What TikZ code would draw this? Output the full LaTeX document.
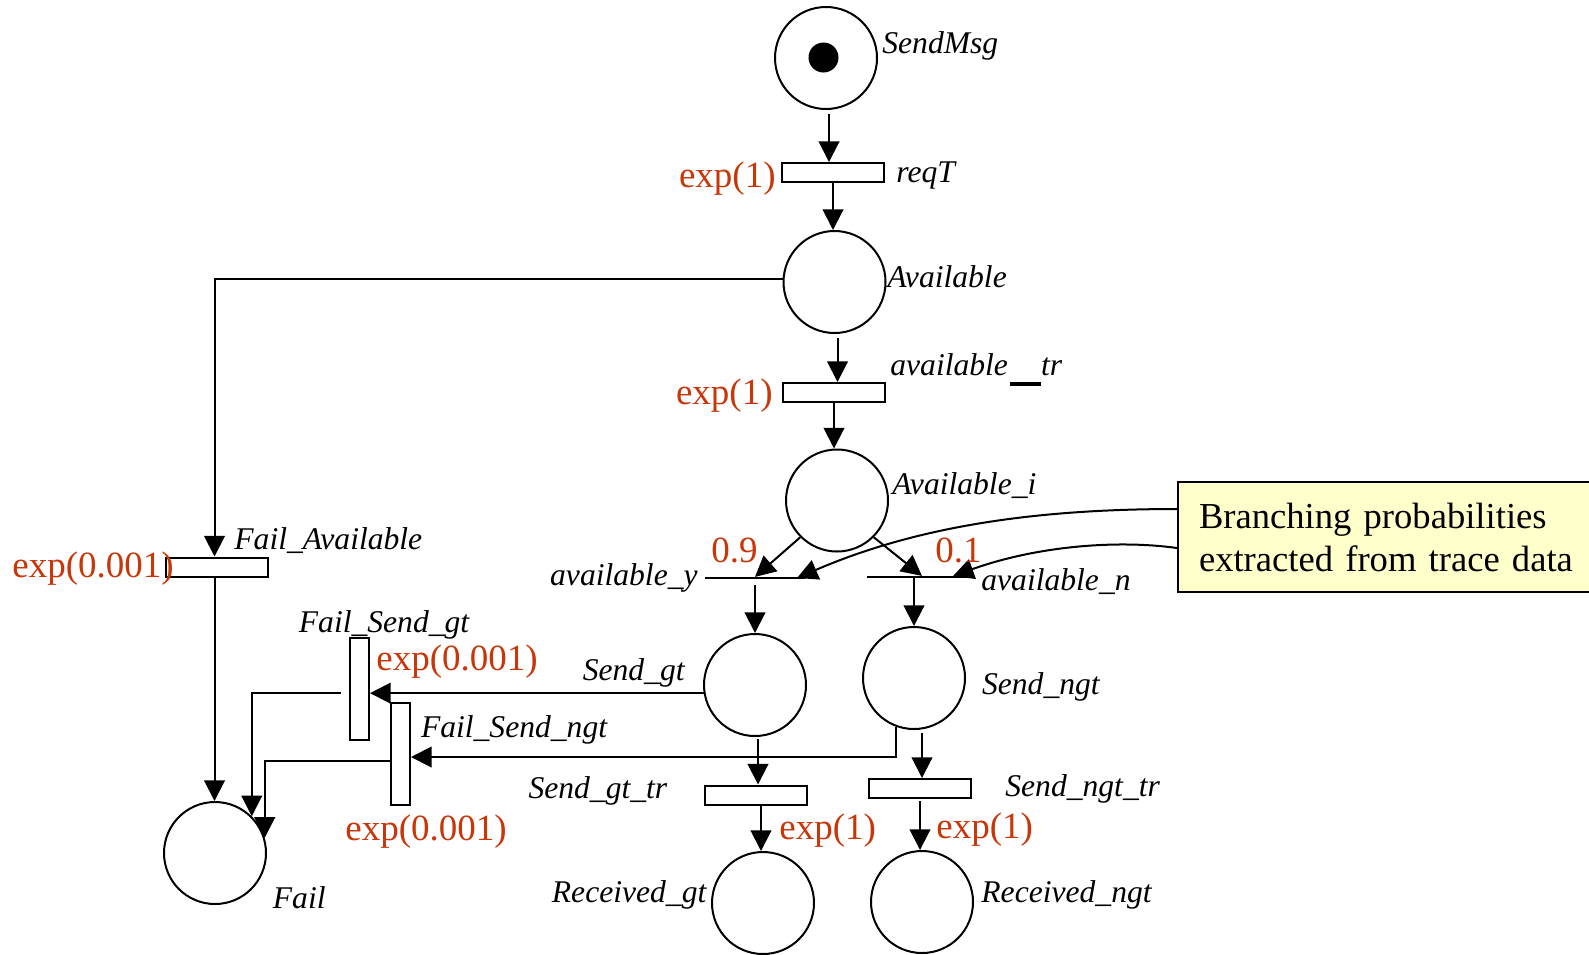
\documentclass[tikz,border=0pt]{standalone}
\usepackage{fontspec}
\setmainfont{Liberation Serif}
\usetikzlibrary{arrows.meta,calc}
\definecolor{ratered}{RGB}{200,55,10}
\definecolor{notefill}{RGB}{255,255,204}
\begin{document}
\begin{tikzpicture}[x=0.5pt,y=-0.5pt,
  place/.style={circle,draw,line width=1pt,minimum size=51pt,inner sep=0pt},
  token/.style={circle,fill,minimum size=15pt,inner sep=0pt},
  trans/.style={rectangle,draw,line width=1pt,fill=white,minimum width=51pt,minimum height=9.5pt,inner sep=0pt},
  vtrans/.style={trans,minimum width=9.5pt,minimum height=51pt},
  imm/.style={rectangle,draw,line width=1.1pt,minimum width=50pt,minimum height=0pt,inner sep=0pt},
  lbl/.style={inner sep=0pt,font=\itshape\fontsize{15.8}{18}\selectfont},
  rate/.style={inner sep=0pt,text=ratered,font=\fontsize{18.5}{21}\selectfont},
  arr/.style={line width=1pt,-{Triangle[length=10.3pt,width=10.3pt]}},
  note/.style={rectangle,draw,line width=1pt,fill=notefill,anchor=west,
    minimum height=55pt,text width=200pt,inner xsep=10.5pt,inner ysep=0pt,align=left,
    font=\fontsize{18.3}{21.5}\selectfont}
]
\useasboundingbox (0,0) rectangle (1589,954);
\clip (0,0) rectangle (1589,954);

% places
\node[place] (SendMsg) at (826,58) {};
\node[token] (tok) at (823.5,57.5) {};
\node[place] (Available) at (834.5,282) {};
\node[place] (Availi) at (837,500.5) {};
\node[place] (Sendgt) at (755,685) {};
\node[place] (Sendngt) at (914,678) {};
\node[place] (Recgt) at (763,903) {};
\node[place] (Recngt) at (922,902) {};
\node[place] (Fail) at (215,853) {};

% timed transitions
\node[trans] (reqT) at (833,172.5) {};
\node[trans] (avtr) at (834,392.5) {};
\node[trans] (failav) at (216.5,567) {};
\node[trans] (sgtr) at (756,795) {};
\node[trans] (sngtr) at (920,788.5) {};
\node[vtrans] (fsgt) at (359.5,689) {};
\node[vtrans] (fsngt) at (400.5,754) {};

% immediate transitions
\node[imm] (avy) at (755,578) {};
\node[imm] (avn) at (917,577) {};

% annotation box
\node[note] (note) at (1177,537) {Branching probabilities\\extracted from trace data};

% arcs
\draw[arr] ([xshift=1.5pt,yshift=-2pt]SendMsg.south) -- ([xshift=1.5pt]SendMsg.south |- reqT.north);
\draw[arr] (reqT.south) -- (reqT.south |- Available.north);
\draw[arr] ([xshift=1.5pt,yshift=-2pt]Available.south) -- ([xshift=1.5pt]Available.south |- avtr.north);
\draw[arr] (avtr.south) -- (avtr.south |- Availi.north);
\draw[arr] (Availi.225) -- (avy.north);
\draw[arr] (Availi.315) -- ([xshift=2.5pt]avn.north);
\draw[arr,shorten <=3pt] (avy.south -| Sendgt.north) -- (Sendgt.north);
\draw[arr] (avn.south -| Sendngt.north) -- (Sendngt.north);
\draw[arr] ([xshift=1.5pt,yshift=-1pt]Sendgt.south) -- ([xshift=1.5pt]Sendgt.south |- sgtr.north);
\draw[arr] ([xshift=4pt,yshift=-1.5pt]Sendngt.south) -- ([xshift=4pt]Sendngt.south |- sngtr.north);
\draw[arr] ([xshift=2.5pt]sgtr.south) -- ([xshift=2.5pt]sgtr.south |- Recgt.north);
\draw[arr,shorten <=1pt] (sngtr.south) -- (sngtr.south |- Recngt.north);

% failure arcs
\draw[arr] ([yshift=1.5pt]Available.west) -| ([xshift=-1pt]failav.north);
\draw[arr] ([xshift=-1pt]failav.south) -- ([xshift=-1pt]failav.south |- Fail.north);
\draw[arr] (Sendgt.189) -- (Sendgt.189 -| fsgt.east);
\draw[arr] ([xshift=-4pt]fsgt.west |- Sendgt.189) -| (Fail.45);
\draw[arr] (Sendngt.250) |- ([yshift=-1.5pt]fsngt.east);
\draw[arr] ([yshift=-3.5pt]fsngt.west) -| (Fail.17);

% annotation pointers
\draw[arr] ([yshift=14pt]note.west) .. controls (1040,509) and (920,525) .. ([xshift=21pt]avy.center);
\draw[arr] ([yshift=-5.5pt]note.west) .. controls (1120,540) and (1040,545) .. ([xshift=18pt,yshift=0.5pt]avn.center);

% names
\node[lbl,anchor=base west] (lSendMsg) at (882,53) {SendMsg};
\node[lbl,anchor=base west] (lreqT) at (896,182) {reqT};
\node[lbl,anchor=base west] (lAvailable) at (887,287) {Available};
\node[lbl,anchor=base west] (lavtr) at (890,375) {available\kern1pt\rule[-5.5pt]{15.5pt}{2pt}tr};
\node[lbl,anchor=base west] (lAvaili) at (892,494) {Available\_i};
\node[lbl,anchor=base east] (lavy) at (698,585) {available\_y};
\node[lbl,anchor=base west] (lavn) at (981,590) {available\_n};
\node[lbl,anchor=base west] (lfailav) at (234,549) {Fail\_Available};
\node[lbl,anchor=base west] (lfsgt) at (298.5,632) {Fail\_Send\_gt};
\node[lbl,anchor=base east] (lSendgt) at (685,680) {Send\_gt};
\node[lbl,anchor=base west] (lfsngt) at (420.6,737) {Fail\_Send\_ngt};
\node[lbl,anchor=base east] (lsgtr) at (667.6,798) {Send\_gt\_tr};
\node[lbl,anchor=base west] (lSendngt) at (981.7,694) {Send\_ngt};
\node[lbl,anchor=base west] (lsngtr) at (1005,796) {Send\_ngt\_tr};
\node[lbl,anchor=base west] (lFail) at (272.5,908) {Fail};
\node[lbl,anchor=base east] (lRecgt) at (706.7,902) {Received\_gt};
\node[lbl,anchor=base west] (lRecngt) at (981,902) {Received\_ngt};

% rates and probabilities
\node[rate,anchor=base east] (rreqT) at (776,187) {exp(1)};
\node[rate,anchor=base east] (ravtr) at (773,404) {exp(1)};
\node[rate,anchor=base west] (pavy) at (711,562) {0.9};
\node[rate,anchor=base west] (pavn) at (935,562) {0.1};
\node[rate,anchor=base west] (rfailav) at (12,577) {exp(0.001)};
\node[rate,anchor=base west] (rfsgt) at (376,670) {exp(0.001)};
\node[rate,anchor=base west] (rfsngt) at (345,840) {exp(0.001)};
\node[rate,anchor=base west] (rsgtr) at (779,839) {exp(1)};
\node[rate,anchor=base west] (rsngtr) at (936,838) {exp(1)};
\end{tikzpicture}
\end{document}
